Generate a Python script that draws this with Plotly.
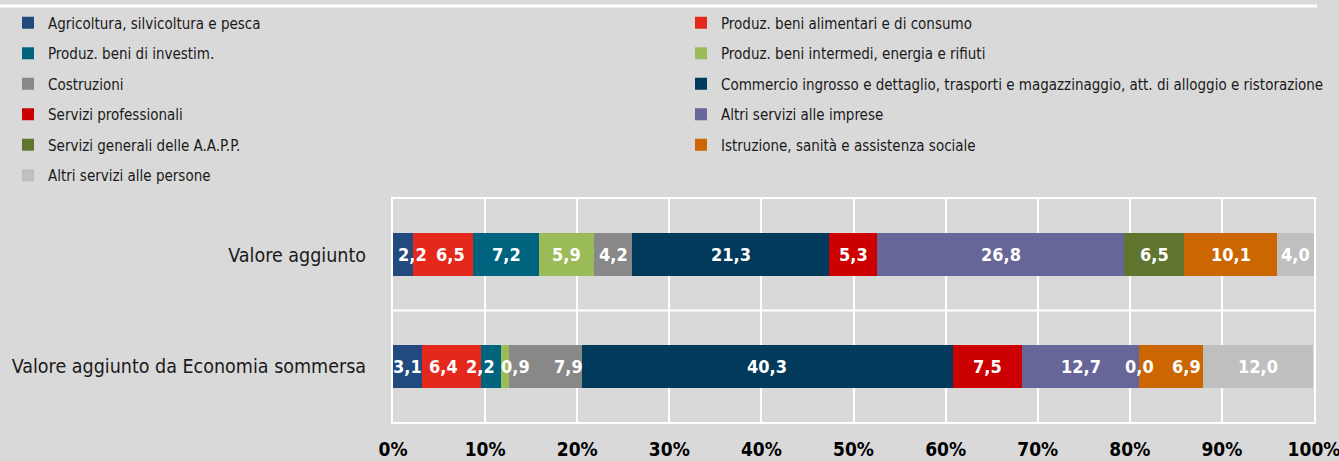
import plotly.graph_objects as go

categories = ["Valore aggiunto", "Valore aggiunto da Economia sommersa"]

sectors = [
    "Agricoltura, silvicoltura e pesca",
    "Produz. beni alimentari e di consumo",
    "Produz. beni di investim.",
    "Produz. beni intermedi, energia e rifiuti",
    "Costruzioni",
    "Commercio ingrosso e dettaglio, trasporti e magazzinaggio, att. di alloggio e ristorazione",
    "Servizi professionali",
    "Altri servizi alle imprese",
    "Servizi generali delle A.A.P.P.",
    "Istruzione, sanità e assistenza sociale",
    "Altri servizi alle persone",
]

valore_aggiunto = [2.2, 6.5, 7.2, 5.9, 4.2, 21.3, 5.3, 26.8, 6.5, 10.1, 4.0]
valore_sommerso = [3.1, 6.4, 2.2, 0.9, 7.9, 40.3, 7.5, 12.7, 0.0, 6.9, 12.0]

x_ticks = [0, 10, 20, 30, 40, 50, 60, 70, 80, 90, 100]
x_tick_labels = ["0%", "10%", "20%", "30%", "40%", "50%", "60%", "70%", "80%", "90%", "100%"]

# style
colors = ["#224a7e", "#e4281c", "#00647f", "#9bbb59", "#888888", "#013a5a",
          "#cc0000", "#666699", "#607530", "#cc6600", "#bfbfbf"]
label_shift_va = [9, 7, 0, 0, 0, 0, 0, 0, 0, 0, 0]
label_shift_so = [0, -8, -10, 11, 23, 0, 0, 0, 0, 16, 0]

BG = "#d9d9d9"
NARROW = "DejaVu Sans Condensed, Liberation Sans Narrow, sans-serif"

PLOT_W = 1314 - 393
PLOT_H = 422 - 199

fig = go.Figure()
series = [valore_aggiunto, valore_sommerso]
for i, name in enumerate(sectors):
    fig.add_trace(go.Bar(
        name=name,
        y=categories,
        x=[valore_aggiunto[i], valore_sommerso[i]],
        orientation="h",
        marker=dict(color=colors[i], line=dict(width=0)),
        legend="legend" if i % 2 == 0 else "legend2",
        legendgroup=name,
        hoverinfo="x+name",
    ))

annotations = []
for cat, vals, shifts in zip(categories, series, [label_shift_va, label_shift_so]):
    cum = 0.0
    for v, s in zip(vals, shifts):
        annotations.append(dict(
            x=cum + v / 2, y=cat, xref="x", yref="y",
            text=f"{v:.1f}".replace(".", ","),
            showarrow=False, xshift=s,
            font=dict(family=NARROW, size=18, color="white", weight="bold"),
        ))
        cum += v

legend_font = dict(family=NARROW, size=15, color="#1a1a1a")
fig.update_layout(
    width=1339, height=461,
    paper_bgcolor=BG, plot_bgcolor=BG,
    barmode="stack", bargap=0.61,
    margin=dict(l=393, r=25, t=199, b=39, autoexpand=False),
    annotations=annotations,
    shapes=[
        dict(type="line", xref="paper", yref="y", x0=0, x1=1, y0=0.5, y1=0.5,
             line=dict(color="white", width=2), layer="below"),
        dict(type="line", xref="paper", yref="paper",
             x0=-393 / PLOT_W, x1=1 + 3 / PLOT_W,
             y0=1 + 193 / PLOT_H, y1=1 + 193 / PLOT_H,
             line=dict(color="white", width=3), layer="below"),
    ],
    legend=dict(
        x=(8 - 393) / PLOT_W, y=1 + (199 - 6.5) / PLOT_H, xanchor="left", yanchor="top",
        orientation="v", tracegroupgap=8, bgcolor="rgba(0,0,0,0)",
        font=legend_font,
    ),
    legend2=dict(
        x=(681 - 393) / PLOT_W, y=1 + (199 - 6.5) / PLOT_H, xanchor="left", yanchor="top",
        orientation="v", tracegroupgap=8, bgcolor="rgba(0,0,0,0)",
        font=legend_font,
    ),
    xaxis=dict(
        range=[0, 100], tickmode="array", tickvals=x_ticks, ticktext=x_tick_labels,
        showgrid=True, gridcolor="white", gridwidth=2,
        zeroline=False, showline=True, linecolor="white", linewidth=2, mirror=True,
        ticks="", ticklabelstandoff=9, ticklabeloverflow="allow",
        tickfont=dict(family=NARROW, size=19, color="black", weight="bold"),
        fixedrange=True,
    ),
    yaxis=dict(
        categoryorder="array", categoryarray=categories[::-1],
        showgrid=False, zeroline=False,
        showline=True, linecolor="white", linewidth=2, mirror=True,
        ticks="", ticklabelstandoff=21,
        tickfont=dict(family=NARROW, size=19.5, color="#1a1a1a"),
        fixedrange=True,
    ),
)

fig.write_html(
    "out.html",
    config={"displayModeBar": False},
    post_script="document.body.style.margin='0px';document.body.style.background='#d9d9d9';",
)
